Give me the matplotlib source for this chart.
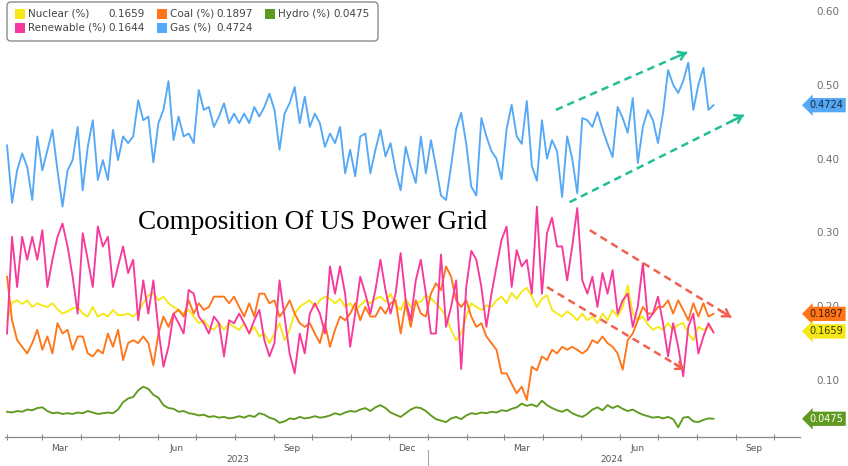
import matplotlib
matplotlib.use('Agg')
import matplotlib.pyplot as plt
import matplotlib.dates as mdates
from matplotlib.patches import FancyBboxPatch, Rectangle
from matplotlib.transforms import IdentityTransform, blended_transform_factory
import pandas as pd

# ---------------- data (4-day samples, Feb 2023 - Aug 2024) ----------------
start_date = '2023-02-01'
step = '4D'

gas = [
    0.418, 0.340, 0.384, 0.407, 0.389, 0.344, 0.430, 0.384, 0.411, 0.439,
    0.384, 0.335, 0.384, 0.398, 0.443, 0.357, 0.416, 0.452, 0.371, 0.398,
    0.371, 0.439, 0.398, 0.430, 0.421, 0.430, 0.479, 0.452, 0.457, 0.395,
    0.448, 0.466, 0.505, 0.425, 0.457, 0.430, 0.434, 0.421, 0.493, 0.466,
    0.470, 0.443, 0.457, 0.475, 0.448, 0.461, 0.448, 0.461, 0.448, 0.470,
    0.457, 0.470, 0.488, 0.466, 0.412, 0.461, 0.475, 0.497, 0.448, 0.484,
    0.443, 0.461, 0.448, 0.416, 0.434, 0.421, 0.443, 0.380, 0.412, 0.376,
    0.430, 0.434, 0.380, 0.412, 0.439, 0.403, 0.421, 0.384, 0.357, 0.416,
    0.389, 0.367, 0.430, 0.380, 0.425, 0.389, 0.350, 0.344, 0.390, 0.440,
    0.462, 0.420, 0.362, 0.350, 0.455, 0.430, 0.410, 0.400, 0.372, 0.440,
    0.473, 0.430, 0.420, 0.478, 0.390, 0.370, 0.452, 0.400, 0.425, 0.410,
    0.348, 0.430, 0.400, 0.353, 0.455, 0.452, 0.443, 0.463, 0.440, 0.420,
    0.402, 0.470, 0.455, 0.435, 0.482, 0.394, 0.443, 0.466, 0.452, 0.421,
    0.462, 0.520, 0.500, 0.489, 0.505, 0.530, 0.466, 0.500, 0.523, 0.466,
    0.4724]

renewable = [
    0.163, 0.294, 0.226, 0.294, 0.263, 0.294, 0.263, 0.303, 0.226, 0.263,
    0.294, 0.312, 0.281, 0.240, 0.190, 0.299, 0.263, 0.226, 0.308, 0.281,
    0.294, 0.226, 0.254, 0.281, 0.245, 0.263, 0.181, 0.235, 0.190, 0.235,
    0.168, 0.118, 0.145, 0.190, 0.177, 0.163, 0.222, 0.217, 0.186, 0.177,
    0.163, 0.186, 0.177, 0.132, 0.181, 0.177, 0.190, 0.177, 0.163, 0.181,
    0.195, 0.154, 0.132, 0.150, 0.235, 0.186, 0.136, 0.109, 0.163, 0.136,
    0.190, 0.204, 0.190, 0.163, 0.254, 0.217, 0.254, 0.217, 0.145, 0.190,
    0.240, 0.217, 0.190, 0.222, 0.263, 0.222, 0.190, 0.217, 0.272, 0.208,
    0.181, 0.235, 0.263, 0.217, 0.163, 0.163, 0.270, 0.172, 0.199, 0.235,
    0.115, 0.226, 0.275, 0.263, 0.226, 0.172, 0.217, 0.254, 0.290, 0.308,
    0.226, 0.276, 0.254, 0.263, 0.217, 0.335, 0.217, 0.299, 0.320, 0.281,
    0.281, 0.235, 0.281, 0.333, 0.235, 0.217, 0.240, 0.199, 0.245, 0.217,
    0.249, 0.190, 0.208, 0.217, 0.172, 0.200, 0.258, 0.181, 0.190, 0.213,
    0.177, 0.132, 0.177, 0.145, 0.105, 0.172, 0.190, 0.136, 0.159, 0.177,
    0.1644]

coal = [
    0.240, 0.181, 0.154, 0.145, 0.136, 0.150, 0.168, 0.141, 0.159, 0.136,
    0.177, 0.163, 0.168, 0.141, 0.159, 0.159, 0.136, 0.132, 0.141, 0.136,
    0.163, 0.145, 0.168, 0.127, 0.150, 0.154, 0.150, 0.159, 0.150, 0.120,
    0.163, 0.186, 0.172, 0.190, 0.195, 0.186, 0.208, 0.190, 0.204, 0.195,
    0.199, 0.213, 0.213, 0.213, 0.204, 0.213, 0.199, 0.186, 0.204, 0.186,
    0.217, 0.217, 0.204, 0.208, 0.186, 0.195, 0.208, 0.190, 0.177, 0.172,
    0.177, 0.163, 0.150, 0.177, 0.145, 0.168, 0.186, 0.181, 0.190, 0.204,
    0.181, 0.199, 0.186, 0.186, 0.199, 0.190, 0.204, 0.208, 0.163, 0.204,
    0.172, 0.208, 0.190, 0.186, 0.217, 0.231, 0.222, 0.254, 0.240, 0.208,
    0.199, 0.208, 0.186, 0.172, 0.177, 0.159, 0.150, 0.141, 0.109, 0.109,
    0.095, 0.082, 0.091, 0.073, 0.118, 0.113, 0.132, 0.127, 0.141, 0.136,
    0.145, 0.141, 0.145, 0.141, 0.136, 0.141, 0.154, 0.150, 0.159, 0.150,
    0.145, 0.136, 0.114, 0.154, 0.163, 0.181, 0.199, 0.190, 0.190, 0.199,
    0.199, 0.208, 0.190, 0.208, 0.195, 0.181, 0.204, 0.186, 0.204, 0.186,
    0.1897]

nuclear = [
    0.180, 0.205, 0.208, 0.203, 0.208, 0.199, 0.204, 0.201, 0.199, 0.204,
    0.196, 0.190, 0.193, 0.197, 0.199, 0.190, 0.186, 0.199, 0.186, 0.190,
    0.186, 0.195, 0.188, 0.188, 0.190, 0.186, 0.193, 0.204, 0.215, 0.218,
    0.208, 0.213, 0.204, 0.199, 0.195, 0.190, 0.195, 0.186, 0.177, 0.181,
    0.172, 0.168, 0.177, 0.168, 0.177, 0.172, 0.168, 0.177, 0.163, 0.172,
    0.159, 0.163, 0.150, 0.163, 0.177, 0.154, 0.168, 0.190, 0.199, 0.204,
    0.208, 0.199, 0.208, 0.213, 0.210, 0.204, 0.210, 0.199, 0.204, 0.195,
    0.201, 0.208, 0.204, 0.210, 0.213, 0.206, 0.217, 0.201, 0.195, 0.210,
    0.199, 0.204, 0.206, 0.215, 0.210, 0.204, 0.196, 0.186, 0.168, 0.154,
    0.163, 0.186, 0.204, 0.199, 0.195, 0.201, 0.199, 0.208, 0.213, 0.204,
    0.218, 0.210, 0.220, 0.225, 0.213, 0.199, 0.210, 0.215, 0.195, 0.190,
    0.186, 0.193, 0.188, 0.181, 0.190, 0.181, 0.186, 0.177, 0.190, 0.181,
    0.195, 0.186, 0.199, 0.228, 0.190, 0.181, 0.186, 0.175, 0.168, 0.172,
    0.168, 0.177, 0.168, 0.175, 0.177, 0.163, 0.154, 0.172, 0.168, 0.172,
    0.1659]

hydro = [
    0.057, 0.056, 0.058, 0.057, 0.060, 0.059, 0.062, 0.063, 0.058, 0.055,
    0.056, 0.054, 0.055, 0.054, 0.056, 0.055, 0.058, 0.056, 0.054, 0.055,
    0.056, 0.055, 0.060, 0.070, 0.075, 0.077, 0.086, 0.091, 0.088, 0.080,
    0.076, 0.066, 0.062, 0.061, 0.057, 0.058, 0.055, 0.054, 0.052, 0.053,
    0.050, 0.051, 0.049, 0.050, 0.048, 0.049, 0.051, 0.049, 0.052, 0.050,
    0.055, 0.053, 0.049, 0.047, 0.042, 0.044, 0.048, 0.047, 0.050, 0.048,
    0.049, 0.051, 0.049, 0.050, 0.052, 0.055, 0.053, 0.056, 0.058, 0.057,
    0.060, 0.062, 0.058, 0.063, 0.066, 0.062, 0.056, 0.053, 0.050, 0.055,
    0.060, 0.063, 0.062, 0.058, 0.052, 0.047, 0.045, 0.043, 0.048, 0.050,
    0.047, 0.052, 0.055, 0.054, 0.056, 0.055, 0.057, 0.056, 0.059, 0.058,
    0.061, 0.063, 0.068, 0.065, 0.067, 0.064, 0.072, 0.066, 0.062, 0.059,
    0.057, 0.060, 0.055, 0.052, 0.050, 0.054, 0.060, 0.063, 0.059, 0.066,
    0.062, 0.065, 0.061, 0.058, 0.060, 0.056, 0.053, 0.051, 0.049, 0.050,
    0.048, 0.050, 0.047, 0.036, 0.049, 0.050, 0.044, 0.043, 0.046, 0.048,
    0.0475]

series_names = ['Nuclear (%)', 'Coal (%)', 'Hydro (%)', 'Renewable (%)', 'Gas (%)']
last_values = [0.1659, 0.1897, 0.0475, 0.1644, 0.4724]
y_ticks = [0.10, 0.20, 0.30, 0.40, 0.50, 0.60]
month_labels = ['Mar', 'Jun', 'Sep', 'Dec', 'Mar', 'Jun', 'Sep']
month_label_dates = ['2023-03-15', '2023-06-15', '2023-09-15', '2023-12-15',
                     '2024-03-15', '2024-06-15', '2024-09-15']
year_labels = ['2023', '2024']
year_label_dates = ['2023-08-03', '2024-05-25']

# trend arrows (annotations): (start date, start value, end date, end value)
green_arrows = [('2024-04-11', 0.466, '2024-07-24', 0.544),
                ('2024-04-22', 0.341, '2024-09-07', 0.459)]
red_arrows = [('2024-05-08', 0.303, '2024-08-28', 0.185),
              ('2024-04-04', 0.226, '2024-07-22', 0.114)]

# ---------------- styling ----------------
C_NUC = '#f5e814'
C_COAL = '#ff7518'
C_HYD = '#5e9a1e'
C_REN = '#f7399b'
C_GAS = '#55a8f5'
C_TEAL = '#22bf95'
C_RED = '#f2604e'

W, H = 848, 466
fig = plt.figure(figsize=(W / 100, H / 100), dpi=100)


def fx(px):
    return px / W


def fy(py):
    return 1 - py / H


ax = fig.add_axes([fx(5), fy(437), fx(800) - fx(5), fy(0) - fy(437)])

n = min(len(gas), len(renewable), len(coal), len(nuclear), len(hydro))
dates = pd.date_range(start_date, periods=n, freq=step)

lw = 1.35
ax.plot(dates, nuclear[:n], color=C_NUC, lw=lw, zorder=3)
ax.plot(dates, coal[:n], color=C_COAL, lw=lw, zorder=4)
ax.plot(dates, hydro[:n], color=C_HYD, lw=lw, zorder=3)
ax.plot(dates, renewable[:n], color=C_REN, lw=lw, zorder=5)
ax.plot(dates, gas[:n], color=C_GAS, lw=lw, zorder=5)

anchor = mdates.date2num(pd.Timestamp('2023-03-15'))
ppd = 1.2616  # pixels per day
ax.set_xlim(anchor - 55 / ppd, anchor + 740 / ppd)
ax.set_ylim(0.0228, 0.6149)

for s in ['top', 'left', 'right']:
    ax.spines[s].set_visible(False)
ax.spines['bottom'].set_color('#8a8a8a')
ax.spines['bottom'].set_linewidth(0.9)

ax.xaxis.set_major_locator(mdates.MonthLocator())
ax.xaxis.set_major_formatter(plt.NullFormatter())
ax.tick_params(axis='x', direction='inout', length=4, width=0.8, colors='#8a8a8a')

ax.yaxis.tick_right()
ax.set_yticks(y_ticks)
ax.set_yticklabels([f'{v:.2f}' for v in y_ticks])
ax.tick_params(axis='y', length=0, pad=12, labelsize=7.5, labelcolor='#707070')

trans = blended_transform_factory(ax.transData, ax.transAxes)
for lab, d in zip(month_labels, month_label_dates):
    ax.annotate(lab, xy=(mdates.date2num(pd.Timestamp(d)), 0), xycoords=trans,
                xytext=(0, -8), textcoords='offset points', ha='center', va='center',
                fontsize=6.5, color='#555555', annotation_clip=False)

jan24 = mdates.date2num(pd.Timestamp('2024-01-01'))
for lab, d in zip(year_labels, year_label_dates):
    ax.annotate(lab, xy=(mdates.date2num(pd.Timestamp(d)), 0), xycoords=trans,
                xytext=(0, -16.5), textcoords='offset points', ha='center',
                va='center', fontsize=6.5, color='#555555', annotation_clip=False)
ax.plot([jan24, jan24], [-13 / 437, -30 / 437], transform=trans, color='#aaaaaa',
        lw=0.8, clip_on=False)

# value tags on the right
tag_specs = [(last_values[4], C_GAS, '#1a2a40'),
             (last_values[1], C_COAL, '#3a1a00'),
             (last_values[0], C_NUC, '#3a3a00'),
             (last_values[2], C_HYD, 'white')]
for val, col, tcol in tag_specs:
    ax.annotate(f'{val:.4f}', xy=(1.0, val), xycoords=('axes fraction', 'data'),
                xytext=(7, 0), textcoords='offset points', ha='left', va='center',
                fontsize=7, color=tcol,
                bbox=dict(boxstyle='larrow,pad=0.22', fc=col, ec='none'),
                zorder=10, annotation_clip=False)


# trend arrows
def draw_arrow(spec, color):
    sd, sv, ed, ev = spec
    xs = mdates.date2num(pd.Timestamp(sd))
    xe = mdates.date2num(pd.Timestamp(ed))
    ax.plot([xs, xe], [sv, ev], color=color, lw=1.8, dashes=(3, 2), zorder=8,
            solid_capstyle='butt', clip_on=False)
    fr = 0.93
    ax.annotate('', xy=(xe, ev), xytext=(xs + fr * (xe - xs), sv + fr * (ev - sv)),
                arrowprops=dict(arrowstyle='->,head_length=0.45,head_width=0.3',
                                color=color, lw=1.8, shrinkA=0, shrinkB=0),
                zorder=9, annotation_clip=False)


for spec in green_arrows:
    draw_arrow(spec, C_TEAL)
for spec in red_arrows:
    draw_arrow(spec, C_RED)

# title
fig.text(fx(138), fy(229), 'Composition Of US Power Grid', family='Liberation Serif',
         fontsize=19.5, color='black', va='baseline', ha='left')

# legend box (pixel coordinates)
idt = IdentityTransform()
box = FancyBboxPatch((7, H - 41), 371, 39, boxstyle='round,pad=0,rounding_size=4',
                     transform=idt, fc='white', ec='#8c8c8c', lw=1.0, zorder=20)
fig.add_artist(box)

legend_colors = [C_NUC, C_COAL, C_HYD, C_REN, C_GAS]
legend_pos = [(15, 145, 14), (157, 253, 14), (265, 370, 14), (15, 145, 28), (157, 253, 28)]
for name, val, col, (xs, xv, yr) in zip(series_names, last_values, legend_colors, legend_pos):
    fig.add_artist(Rectangle((xs, H - yr - 5), 10, 10, transform=idt, fc=col, ec='none',
                             zorder=21))
    fig.text(fx(xs + 13), fy(yr), name, fontsize=7.5, color='#444444', va='center',
             ha='left', zorder=22)
    fig.text(fx(xv), fy(yr), f'{val:.4f}', fontsize=7.5, color='#444444', va='center',
             ha='right', zorder=22)

fig.savefig('out.png', dpi=100)
